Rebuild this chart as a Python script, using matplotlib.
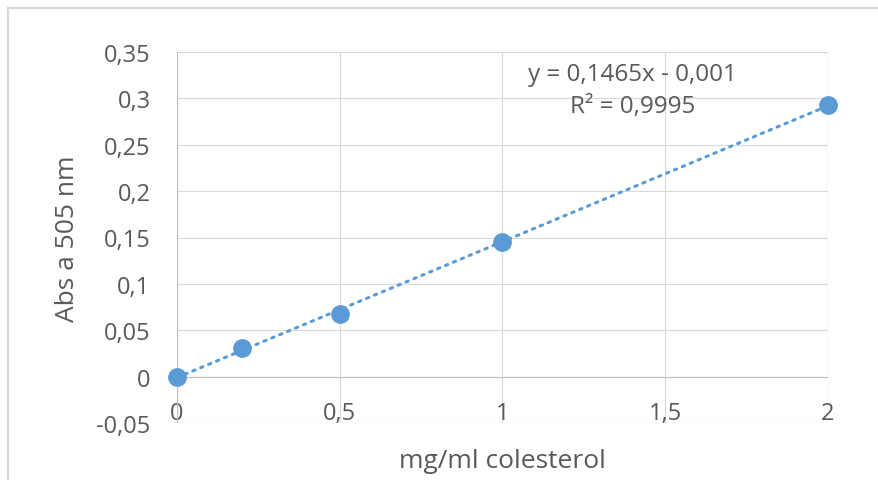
import numpy as np
import matplotlib
matplotlib.use('Agg')
from matplotlib import pyplot as plt
from matplotlib.patches import Rectangle

# data
conc = [0, 0.2, 0.5, 1, 2]
absorbance = [0, 0.031, 0.068, 0.145, 0.293]
slope = 0.1465
intercept = -0.001
r_squared = 0.9995
x_ticks = [0, 0.5, 1, 1.5, 2]
y_ticks = [-0.05, 0, 0.05, 0.1, 0.15, 0.2, 0.25, 0.3, 0.35]

blue = '#5b9bd5'
grey_text = '#595959'
grid_col = '#d9d9d9'

plt.rcParams['font.family'] = ['Open Sans', 'DejaVu Sans']


def comma(v):
    return f"{v:g}".replace('.', ',')


fig = plt.figure(figsize=(8.79, 4.81), dpi=100)
fig.patch.set_facecolor('white')
ax = fig.add_axes([177 / 879, 1 - 424 / 481, 651 / 879, 371 / 481])

# chart border (only top and left are inside the crop)
fig.patches.append(Rectangle((8 / 879, -0.2), 1.2, 1.2 - 9 / 481,
                             transform=fig.transFigure, fill=False,
                             edgecolor=grid_col, linewidth=1.6, zorder=0))

ax.set_xlim(0, 2)
ax.set_ylim(-0.05, 0.35)
ax.set_xticks(x_ticks)
ax.set_yticks(y_ticks)
ax.set_xticklabels([comma(v) for v in x_ticks])
ax.set_yticklabels([comma(round(v, 2)) for v in y_ticks])
ax.grid(True, color=grid_col, linewidth=0.8)
ax.set_axisbelow(True)
for sp in ax.spines.values():
    sp.set_visible(False)
ax.axhline(0, color='#bfbfbf', linewidth=0.8, zorder=1)
ax.axvline(0, color='#bfbfbf', linewidth=0.8, zorder=1)
ax.axhline(-0.05, color=grid_col, linewidth=0.8, zorder=1)
ax.axvline(2, color=grid_col, linewidth=0.8, zorder=1)

ax.tick_params(axis='both', length=0, colors=grey_text, labelsize=17)
ax.tick_params(axis='x', pad=-16)
ax.tick_params(axis='y', pad=19)

trend_x = np.array([0, 2])
ax.plot(trend_x, slope * trend_x + intercept, color=blue, linewidth=2.2,
        linestyle=(0, (0.8, 2)), dash_capstyle='round', zorder=2)
ax.plot(conc, absorbance, 'o', color=blue, markersize=12.5, zorder=3, clip_on=False)

ax.text(1.40, 0.326, f"y = {comma(slope)}x - {comma(abs(intercept))}", ha='center', va='center',
        fontsize=17.5, color=grey_text)
ax.text(1.40, 0.2915, f"R² = {comma(r_squared)}", ha='center', va='center',
        fontsize=17.5, color=grey_text)

ax.set_xlabel('mg/ml colesterol', fontsize=19, color=grey_text)
ax.set_ylabel('Abs a 505 nm', fontsize=19, color=grey_text)
ax.xaxis.set_label_coords(0.5, -0.067)
ax.yaxis.set_label_coords(-0.149, 0.5)

fig.savefig('out.png', dpi=100, facecolor='white')
